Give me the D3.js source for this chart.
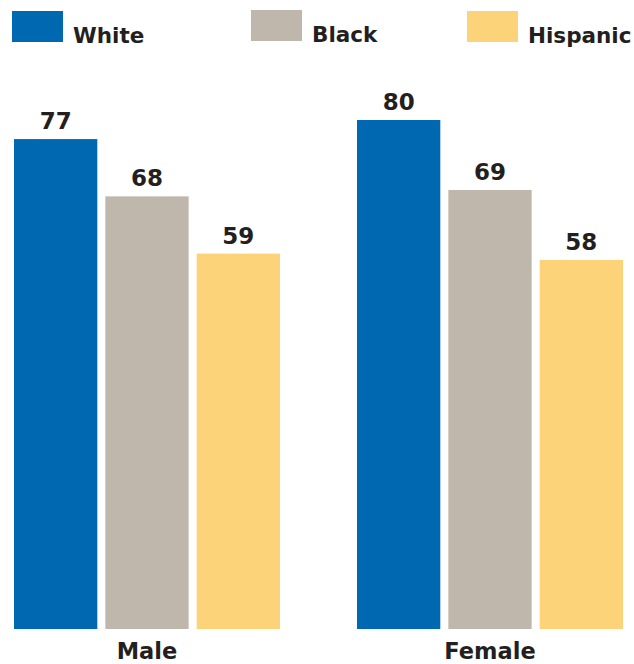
<!DOCTYPE html>
<html><head><meta charset="utf-8">
<script src="https://cdn.jsdelivr.net/npm/d3@7"></script>
<style>
html,body{margin:0;padding:0;background:#fff;}
svg{display:block;}
text{font-family:"DejaVu Sans",sans-serif;font-weight:bold;fill:#231f20;}
</style></head>
<body>
<svg id="chart" width="634" height="664"></svg>
<script>
const groups = ["Male", "Female"];
const series = ["White", "Black", "Hispanic"];
const white = [77, 80];
const black = [68, 69];
const hispanic = [59, 58];
const colors = ["#0067b1", "#bfb7ac", "#fdd37a"];

const valuesBySeries = [white, black, hispanic];
const data = groups.map((g, gi) => ({
  group: g,
  values: series.map((s, si) => ({ series: s, value: valuesBySeries[si][gi], color: colors[si] }))
}));

const svg = d3.select("#chart");

const x0 = d3.scaleBand().domain(groups).range([14, 623]).paddingInner(0.2245).paddingOuter(0);
const x1 = d3.scaleBand().domain(series).range([0, x0.bandwidth()]).paddingInner(0.088).paddingOuter(0);
const y = d3.scaleLinear().domain([0, 80]).range([629, 120]);

const g = svg.selectAll("g.grp").data(data).join("g")
  .attr("class", "grp")
  .attr("transform", d => `translate(${x0(d.group)},0)`);

g.selectAll("rect").data(d => d.values).join("rect")
  .attr("x", d => x1(d.series))
  .attr("y", d => y(d.value))
  .attr("width", x1.bandwidth())
  .attr("height", d => y(0) - y(d.value))
  .attr("fill", d => d.color);

g.selectAll("text.val").data(d => d.values).join("text")
  .attr("class", "val")
  .attr("x", d => x1(d.series) + x1.bandwidth() / 2)
  .attr("y", d => y(d.value) - 10)
  .attr("text-anchor", "middle")
  .style("font-size", "23px")
  .text(d => d.value);

// category axis labels
const xAxis = d3.axisBottom(x0).tickSize(0).tickPadding(0);
const ax = svg.append("g").attr("transform", `translate(0,${y(0)})`).call(xAxis);
ax.select(".domain").remove();
ax.selectAll("text")
  .attr("dy", null)
  .attr("y", 30)
  .style("font-size", "22.5px")
  .style("font-family", "'DejaVu Sans', sans-serif")
  .style("font-weight", "bold")
  .attr("fill", "#231f20");

// legend
const legendX = [12, 251, 467];
const legendY = [11, 10, 11];
const lg = svg.selectAll("g.leg").data(series).join("g")
  .attr("class", "leg")
  .attr("transform", (d, i) => `translate(${legendX[i]},${legendY[i]})`);
lg.append("rect").attr("width", 51).attr("height", 31).attr("fill", (d, i) => colors[i]);
lg.append("text").attr("x", 61).attr("y", 32).style("font-size", "21.5px").text(d => d);
</script>
</body></html>
